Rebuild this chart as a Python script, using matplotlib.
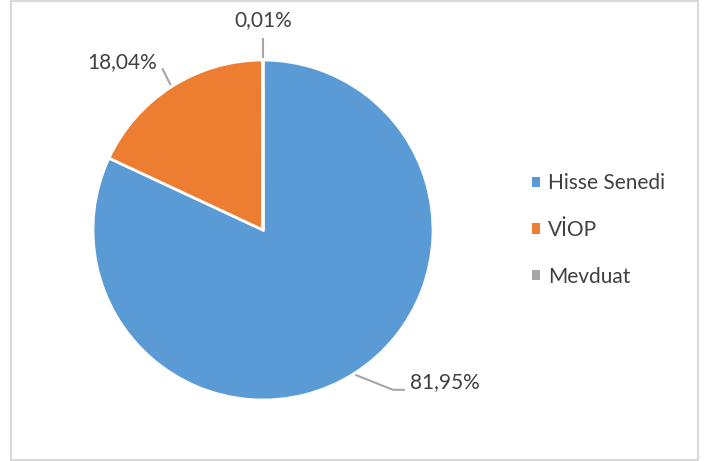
import numpy as np
import matplotlib.pyplot as plt
from matplotlib.patches import Rectangle

# Veriler
kategoriler = ['Hisse Senedi', 'VİOP', 'Mevduat']
oranlar = [81.95, 18.04, 0.01]
etiketler = ['81,95%', '18,04%', '0,01%']
renkler = ['#5B9BD5', '#ED7D31', '#A5A5A5']

plt.rcParams['font.family'] = ['Lato', 'DejaVu Sans']
yazi_rengi = '#404040'
cizgi_rengi = '#A6A6A6'

W, H = 707, 461
fig = plt.figure(figsize=(W / 100, H / 100), dpi=100)

# Pasta grafiği: merkez (263, 230) px, yarıçap 170 px
ax = fig.add_axes([93 / W, (H - 400) / H, 340 / W, 340 / H])
wedges, _ = ax.pie(oranlar, colors=renkler, startangle=90, counterclock=False,
                   wedgeprops=dict(edgecolor='white', linewidth=2))
ax.set_xlim(-1, 1)
ax.set_ylim(-1, 1)
ax.set_aspect('equal')
ax.axis('off')

# Etiketler ve kılavuz çizgileri (konumlar elle ayarlandı)
etiket_yeri = [(0.865, -0.895, 'left'), (-0.83, 0.99, 'center'), (0.0, 1.235, 'center')]
for w, etk, (tx, ty, ha) in zip(wedges, etiketler, etiket_yeri):
    aci = np.deg2rad((w.theta1 + w.theta2) / 2)
    x0, y0 = np.cos(aci) * 1.01, np.sin(aci) * 1.01
    if ha == 'left':
        xs = [x0, 0.765, 0.835]
        ys = [y0, -0.94, -0.94]
    elif tx == 0.0:
        xs = [x0, x0]
        ys = [y0, 1.13]
    else:
        xs = [x0, x0 - 0.05]
        ys = [y0, y0 + 0.10]
    ax.plot(xs, ys, color=cizgi_rengi, lw=1.5, clip_on=False, solid_capstyle='butt')
    ax.text(tx, ty, etk, ha=ha, va='center', fontsize=15, color=yazi_rengi)

# Lejant
leg = fig.legend(wedges, kategoriler, loc='center left',
                 bbox_to_anchor=(513 / W, (H - 230) / H), frameon=False,
                 fontsize=15, labelcolor=yazi_rengi, handlelength=0.4,
                 handleheight=0.4, handletextpad=0.4, labelspacing=1.28)
for h in leg.legend_handles:
    h.set_edgecolor('none')

# Dış çerçeve
fig.patches.append(Rectangle((10.5 / W, 1.5 / H), 687 / W, 458 / H,
                             transform=fig.transFigure, fill=False,
                             edgecolor='#D9D9D9', linewidth=1.5))

plt.savefig('out.png', dpi=100)
